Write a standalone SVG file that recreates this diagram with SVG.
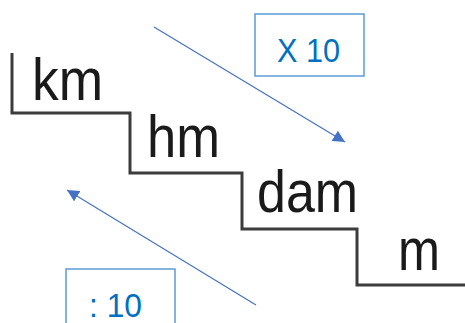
<svg xmlns="http://www.w3.org/2000/svg" width="465" height="323" viewBox="0 0 465 323">
<defs>
<style>
.unit{font-family:"Liberation Sans",Arial,sans-serif;font-size:60px;fill:#1a1a1a}
.lbl{font-family:"Liberation Sans",Arial,sans-serif;font-size:33px;fill:#0070C0}
.box{fill:#fff;stroke:#5B9BD5;stroke-width:1.5}
.arr{stroke:#4472C4;stroke-width:1.2;fill:none}
</style>
<marker id="ah" viewBox="0 0 10 10" refX="10" refY="5" markerWidth="12" markerHeight="12" markerUnits="userSpaceOnUse" orient="auto">
<path d="M0,0 L10,5 L0,10 z" fill="#4472C4"/>
</marker>
</defs>
<rect width="465" height="323" fill="#fff"/>
<g id="stairs">
<path d="M12,53 V113 H130 V173 H242 V229 H357 V285 H465" fill="none" stroke="#3c3c3c" stroke-width="3"/>
</g>
<g id="km"><text class="unit" x="32" y="100" textLength="71" lengthAdjust="spacingAndGlyphs">km</text></g>
<g id="hm"><text class="unit" x="147" y="157" textLength="73" lengthAdjust="spacingAndGlyphs">hm</text></g>
<g id="dam"><text class="unit" x="257" y="212" textLength="101" lengthAdjust="spacingAndGlyphs">dam</text></g>
<g id="m"><text class="unit" x="398" y="270" textLength="42" lengthAdjust="spacingAndGlyphs">m</text></g>
<g id="connectors">
<line class="arr" x1="154" y1="27" x2="345" y2="142" marker-end="url(#ah)"/>
<line class="arr" x1="256" y1="305" x2="67" y2="190" marker-end="url(#ah)"/>
</g>
<g id="times10">
<rect class="box" x="255" y="14" width="109" height="62"/>
<text class="lbl" x="308.5" y="62" text-anchor="middle" textLength="63" lengthAdjust="spacingAndGlyphs">X 10</text>
</g>
<g id="div10">
<rect class="box" x="66" y="269" width="109" height="62"/>
<text class="lbl" x="115.5" y="317" text-anchor="middle" textLength="53" lengthAdjust="spacingAndGlyphs">: 10</text>
</g>
</svg>
